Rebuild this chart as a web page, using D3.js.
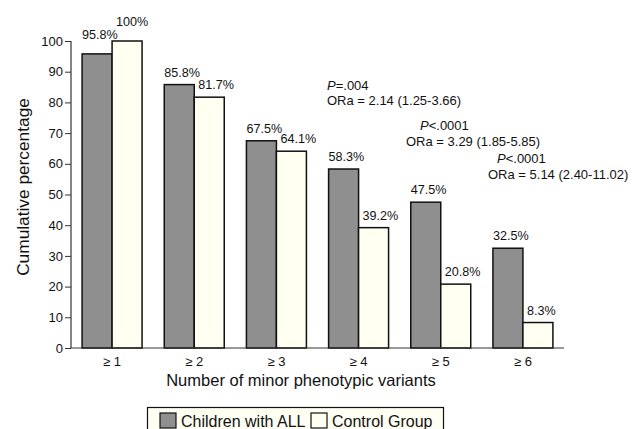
<!DOCTYPE html>
<html><head><meta charset="utf-8">
<script src="https://cdn.jsdelivr.net/npm/d3@7"></script>
<style>body{margin:0;background:#fff}svg{display:block;font-family:"Liberation Sans",Arial,sans-serif}</style>
</head><body><svg id="c" width="642" height="429"></svg>
<script>
const categories = ["\u2265 1","\u2265 2","\u2265 3","\u2265 4","\u2265 5","\u2265 6"];
const allValues = [95.8, 85.8, 67.5, 58.3, 47.5, 32.5];
const controlValues = [100, 81.7, 64.1, 39.2, 20.8, 8.3];
const allLabels = ["95.8%","85.8%","67.5%","58.3%","47.5%","32.5%"];
const controlLabels = ["100%","81.7%","64.1%","39.2%","20.8%","8.3%"];
const yTicks = [0,10,20,30,40,50,60,70,80,90,100];
const seriesNames = ["Children with ALL","Control Group"];
const annotations = [
  {cat: 3, p: "=.004", ora: "ORa = 2.14 (1.25-3.66)"},
  {cat: 4, p: "<.0001", ora: "ORa = 3.29 (1.85-5.85)"},
  {cat: 5, p: "<.0001", ora: "ORa = 5.14 (2.40-11.02)"}
];

const svg = d3.select("#c");
const gray = "#8f8f8f", cream = "#fffff2";
const ff = "Liberation Sans, Arial, sans-serif";
const x = d3.scaleBand().domain(categories).range([71, 564]).paddingInner(0.27).paddingOuter(0.135);
const xs = d3.scaleBand().domain([0,1]).range([0, x.bandwidth()]);
const y = d3.scaleLinear().domain([0,100]).range([348, 41]);

// bars
categories.forEach((c, i) => {
  [allValues[i], controlValues[i]].forEach((v, s) => {
    svg.append("rect")
      .attr("x", x(c) + xs(s)).attr("y", y(v))
      .attr("width", xs.bandwidth()).attr("height", y(0) - y(v))
      .attr("fill", s === 0 ? gray : cream)
      .attr("stroke", "#111").attr("stroke-width", 1.5);
    const lbl = s === 0 ? allLabels[i] : controlLabels[i];
    const off = i === 0 ? 15 : 8;
    svg.append("text")
      .attr("x", x(c) + xs(s) + (s === 0 ? 0 : 4))
      .attr("y", y(v) - off)
      .attr("font-size", 12.6).attr("fill", "#111")
      .text(lbl);
  });
});

// axes
const yAxis = d3.axisLeft(y).tickValues(yTicks).tickSize(6).tickPadding(2);
const gy = svg.append("g").attr("transform", "translate(71,0)").call(yAxis);
gy.selectAll("text").attr("font-size", 13).attr("fill", "#111").attr("font-family", ff);
gy.selectAll("line,path").attr("stroke", "#333");
gy.select(".domain").attr("d", "M0,348V41").attr("stroke-width", 1.2);

const xAxis = d3.axisBottom(x).tickSize(0).tickPadding(9);
const gx = svg.append("g").attr("transform", "translate(0,348)").call(xAxis);
gx.selectAll("text").attr("font-size", 13).attr("fill", "#111").attr("font-family", ff);
gx.select(".domain").attr("d", "M71,0H564").attr("stroke", "#333").attr("stroke-width", 1.2);

// titles
svg.append("text").attr("x", 301).attr("y", 386).attr("text-anchor", "middle")
  .attr("font-size", 16.5).attr("fill", "#111").text("Number of minor phenotypic variants");
svg.append("text").attr("transform", "translate(29,187) rotate(-90)").attr("text-anchor", "middle")
  .attr("font-size", 17.3).attr("fill", "#111").text("Cumulative percentage");

// annotations
const annPos = [{px: 327, ox: 327, py: 90, oy: 105}, {px: 420, ox: 406, py: 130, oy: 146}, {px: 497, ox: 488, py: 163, oy: 179}];
annotations.forEach((a, k) => {
  const t1 = svg.append("text").attr("x", annPos[k].px).attr("y", annPos[k].py).attr("font-size", 13).attr("fill", "#111");
  t1.append("tspan").attr("font-style", "italic").text("P");
  t1.append("tspan").text(a.p);
  svg.append("text").attr("x", annPos[k].ox).attr("y", annPos[k].oy).attr("font-size", 13).attr("fill", "#111").text(a.ora);
});

// legend
const lg = svg.append("g");
lg.append("rect").attr("x", 147.5).attr("y", 407.5).attr("width", 296).attr("height", 30)
  .attr("fill", "#fffff4").attr("stroke", "#111").attr("stroke-width", 1.2);
const legendX = [160, 311];
seriesNames.forEach((n, s) => {
  lg.append("rect").attr("x", legendX[s]).attr("y", 413).attr("width", 16).attr("height", 15)
    .attr("fill", s === 0 ? gray : cream).attr("stroke", "#111").attr("stroke-width", 1.2);
  lg.append("text").attr("x", legendX[s] + 21).attr("y", 427).attr("font-size", 16).attr("fill", "#111").text(n);
});
</script></body></html>
